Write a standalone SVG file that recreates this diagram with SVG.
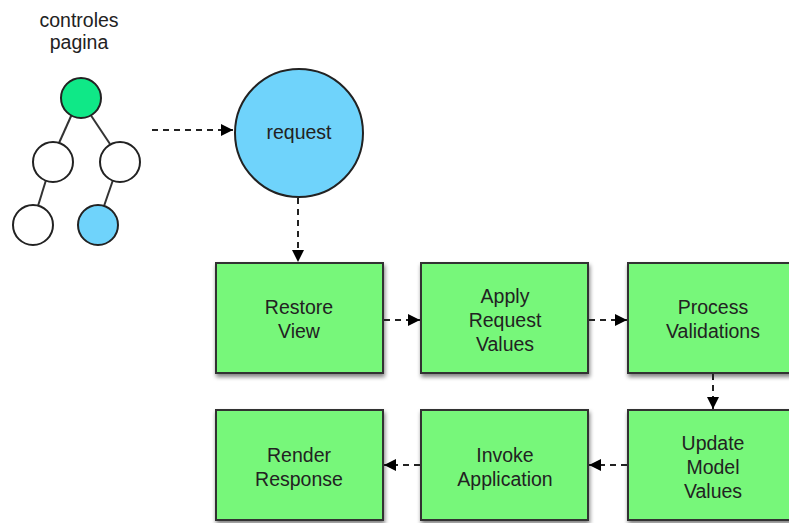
<svg xmlns="http://www.w3.org/2000/svg" width="789" height="523" viewBox="0 0 789 523">
<defs>
<marker id="ah" viewBox="0 0 12 12" refX="12" refY="6" markerWidth="12" markerHeight="12" markerUnits="userSpaceOnUse" orient="auto">
<path d="M0,0 L12,6 L0,12 z" fill="#000"/>
</marker>
<filter id="sh" x="-10%" y="-10%" width="130%" height="130%">
<feGaussianBlur in="SourceAlpha" stdDeviation="2"/>
<feOffset dx="1" dy="3"/>
<feComponentTransfer><feFuncA type="linear" slope="0.5"/></feComponentTransfer>
<feMerge><feMergeNode/><feMergeNode in="SourceGraphic"/></feMerge>
</filter>
</defs>
<style>
text{font-family:"Liberation Sans",Arial,sans-serif;font-size:19.5px;fill:#222;text-anchor:middle}
.box{fill:#77f77a;stroke:#333;stroke-width:2;filter:url(#sh)}
.c{stroke:#222;stroke-width:2}
.tl{stroke:#333;stroke-width:2;fill:none}
.con{stroke:#222;stroke-width:2;stroke-dasharray:6,5;fill:none;marker-end:url(#ah)}
</style>
<rect width="789" height="523" fill="#fff"/>
<g id="tree">
<text x="79" y="27">controles</text>
<text x="79" y="49">pagina</text>
<line class="tl" x1="72" y1="114" x2="59" y2="143"/>
<line class="tl" x1="90" y1="114" x2="110" y2="144"/>
<line class="tl" x1="46" y1="180" x2="38" y2="206"/>
<line class="tl" x1="113" y1="180" x2="104" y2="206"/>
<circle class="c" cx="81" cy="98" r="20" fill="#0fe887"/>
<circle class="c" cx="53" cy="162" r="20" fill="#fff"/>
<circle class="c" cx="120" cy="162" r="20" fill="#fff"/>
<circle class="c" cx="33" cy="225" r="20" fill="#fff"/>
<circle class="c" cx="98" cy="225" r="20" fill="#6fd3fb"/>
</g>
<g id="request">
<circle class="c" cx="299" cy="133" r="64" fill="#6fd3fb"/>
<text x="299" y="139">request</text>
</g>
<g id="restore">
<rect class="box" x="216" y="263" width="167" height="110"/>
<text x="299" y="314">Restore</text>
<text x="299" y="338">View</text>
</g>
<g id="apply">
<rect class="box" x="421" y="263" width="167" height="110"/>
<text x="505" y="303">Apply</text>
<text x="505" y="327">Request</text>
<text x="505" y="351">Values</text>
</g>
<g id="process">
<rect class="box" x="628" y="263" width="170" height="110"/>
<text x="713" y="314">Process</text>
<text x="713" y="338">Validations</text>
</g>
<g id="update">
<rect class="box" x="628" y="410" width="170" height="110"/>
<text x="713" y="450">Update</text>
<text x="713" y="474">Model</text>
<text x="713" y="498">Values</text>
</g>
<g id="invoke">
<rect class="box" x="421" y="410" width="167" height="110"/>
<text x="505" y="462">Invoke</text>
<text x="505" y="486">Application</text>
</g>
<g id="render">
<rect class="box" x="216" y="410" width="167" height="110"/>
<text x="299" y="462">Render</text>
<text x="299" y="486">Response</text>
</g>
<g id="connectors">
<path class="con" d="M152,130 H233"/>
<path class="con" d="M298,198 V262"/>
<path class="con" d="M384,320 H420"/>
<path class="con" d="M589,320 H627"/>
<path class="con" d="M713,374 V409"/>
<path class="con" d="M627,465 H589"/>
<path class="con" d="M420,465 H384"/>
</g>
</svg>
